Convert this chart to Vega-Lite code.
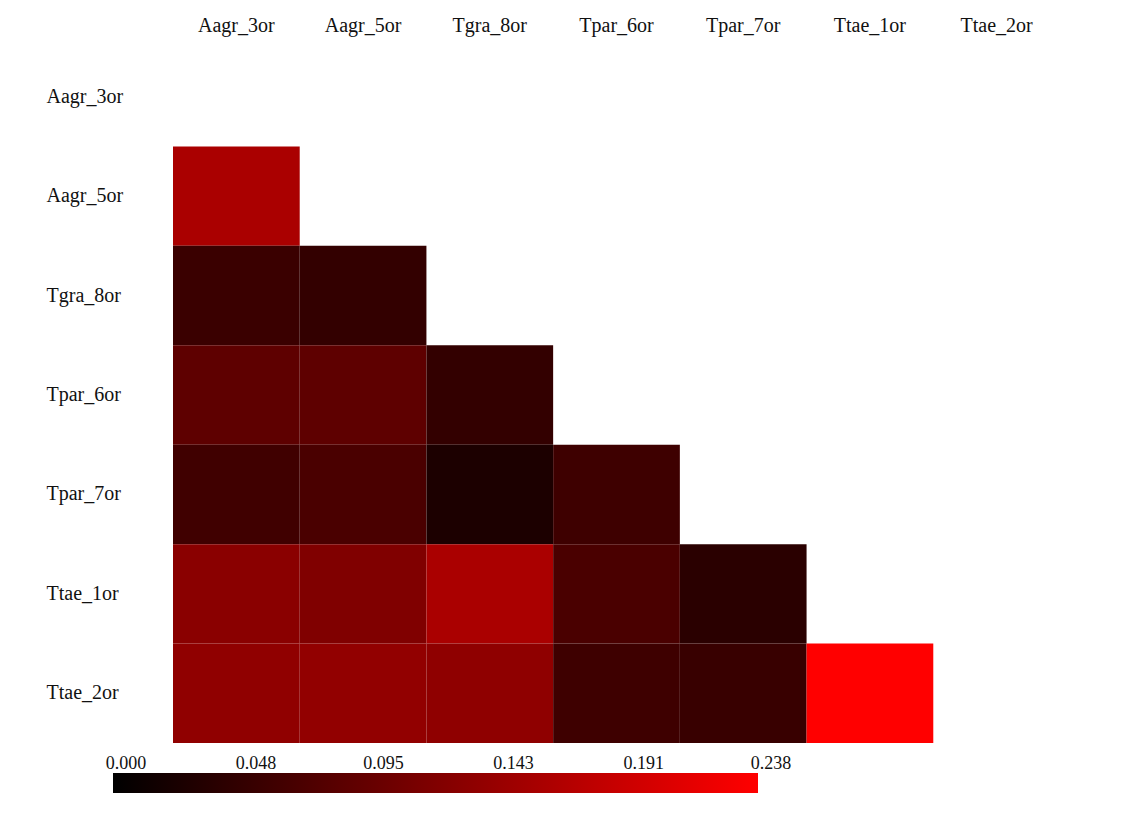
{
  "$schema": "https://vega.github.io/schema/vega-lite/v6.json",
  "width": 887,
  "height": 696,
  "autosize": "none",
  "padding": {"left": 173, "top": 47, "right": 73, "bottom": 71},
  "background": "#ffffff",
  "data": {
    "values": [
      {"row": "Aagr_5or", "col": "Aagr_3or", "value": 0.159},
      {"row": "Tgra_8or", "col": "Aagr_3or", "value": 0.054},
      {"row": "Tgra_8or", "col": "Aagr_5or", "value": 0.048},
      {"row": "Tpar_6or", "col": "Aagr_3or", "value": 0.088},
      {"row": "Tpar_6or", "col": "Aagr_5or", "value": 0.088},
      {"row": "Tpar_6or", "col": "Tgra_8or", "value": 0.048},
      {"row": "Tpar_7or", "col": "Aagr_3or", "value": 0.060},
      {"row": "Tpar_7or", "col": "Aagr_5or", "value": 0.069},
      {"row": "Tpar_7or", "col": "Tgra_8or", "value": 0.026},
      {"row": "Tpar_7or", "col": "Tpar_6or", "value": 0.058},
      {"row": "Ttae_1or", "col": "Aagr_3or", "value": 0.129},
      {"row": "Ttae_1or", "col": "Aagr_5or", "value": 0.119},
      {"row": "Ttae_1or", "col": "Tgra_8or", "value": 0.159},
      {"row": "Ttae_1or", "col": "Tpar_6or", "value": 0.069},
      {"row": "Ttae_1or", "col": "Tpar_7or", "value": 0.039},
      {"row": "Ttae_2or", "col": "Aagr_3or", "value": 0.134},
      {"row": "Ttae_2or", "col": "Aagr_5or", "value": 0.136},
      {"row": "Ttae_2or", "col": "Tgra_8or", "value": 0.133},
      {"row": "Ttae_2or", "col": "Tpar_6or", "value": 0.058},
      {"row": "Ttae_2or", "col": "Tpar_7or", "value": 0.052},
      {"row": "Ttae_2or", "col": "Ttae_1or", "value": 0.238}
    ]
  },
  "mark": {"type": "rect", "strokeWidth": 0},
  "encoding": {
    "x": {
      "field": "col",
      "type": "nominal",
      "scale": {
        "domain": ["Aagr_3or", "Aagr_5or", "Tgra_8or", "Tpar_6or", "Tpar_7or", "Ttae_1or", "Ttae_2or"],
        "paddingInner": 0,
        "paddingOuter": 0
      },
      "axis": {
        "orient": "top",
        "title": null,
        "ticks": false,
        "domain": false,
        "labelAngle": 0,
        "labelPadding": 12,
        "labelFont": "Liberation Serif",
        "labelFontSize": 20,
        "labelColor": "#111111"
      }
    },
    "y": {
      "field": "row",
      "type": "nominal",
      "scale": {
        "domain": ["Aagr_3or", "Aagr_5or", "Tgra_8or", "Tpar_6or", "Tpar_7or", "Ttae_1or", "Ttae_2or"],
        "paddingInner": 0,
        "paddingOuter": 0
      },
      "axis": {
        "title": null,
        "ticks": false,
        "domain": false,
        "labelAlign": "left",
        "labelPadding": 127,
        "labelFont": "Liberation Serif",
        "labelFontSize": 20,
        "labelColor": "#111111"
      }
    },
    "color": {
      "field": "value",
      "type": "quantitative",
      "scale": {"domain": [0, 0.238], "range": ["#000000", "#ff0000"], "interpolate": "rgb"},
      "legend": {
        "orient": "none",
        "direction": "horizontal",
        "legendX": -60,
        "legendY": 726,
        "title": null,
        "gradientLength": 645,
        "gradientThickness": 20,
        "gradientStrokeWidth": 0,
        "values": [0, 0.048, 0.095, 0.143, 0.191, 0.238],
        "format": ".3f",
        "labelFont": "Liberation Serif",
        "labelFontSize": 18,
        "labelColor": "#111111",
        "labelAlign": "center",
        "labelOffset": -38,
        "labelOverlap": false,
        "encode": {"labels": {"update": {"dx": {"value": 13}, "align": {"value": "center"}}}}
      }
    }
  },
  "config": {"view": {"stroke": null}}
}
